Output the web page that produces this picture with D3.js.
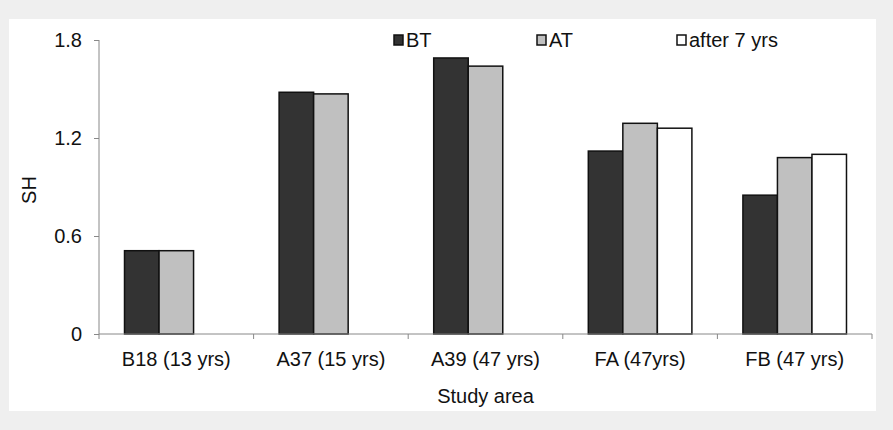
<!DOCTYPE html>
<html>
<head>
<meta charset="utf-8">
<script src="https://cdn.jsdelivr.net/npm/d3@7"></script>
<style>
  html, body { margin: 0; padding: 0; background: #efefef; }
  svg { display: block; font-family: "Liberation Sans", Arial, sans-serif; }
</style>
</head>
<body>
<svg id="chart" width="893" height="430"></svg>
<script>
// chart data
const categories = ["B18 (13 yrs)", "A37 (15 yrs)", "A39 (47 yrs)", "FA (47yrs)", "FB (47 yrs)"];
const seriesNames = ["BT", "AT", "after 7 yrs"];
const btValues = [0.51, 1.48, 1.69, 1.12, 0.85];
const atValues = [0.51, 1.47, 1.64, 1.29, 1.08];
const after7Values = [null, null, null, 1.26, 1.10];
const yTicks = [0, 0.6, 1.2, 1.8];

const colors = ["#333333", "#c0c0c0", "#ffffff"];
const seriesValues = [btValues, atValues, after7Values];
const fontSize = 20;

const svg = d3.select("#chart");

// white panel
svg.append("rect")
    .attr("x", 9).attr("y", 19)
    .attr("width", 867).attr("height", 392)
    .attr("fill", "#fff");

const margin = { left: 99, right: 21, top: 40, bottom: 96 };
const width = 893 - margin.left - margin.right;
const height = 430 - margin.top - margin.bottom;

const g = svg.append("g").attr("transform", `translate(${margin.left},${margin.top})`);

const x0 = d3.scaleBand().domain(categories).range([0, width]).paddingInner(0.33).paddingOuter(0.165);
const x1 = d3.scaleBand().domain(seriesNames).range([0, x0.bandwidth()]);
const y = d3.scaleLinear().domain([0, 1.8]).range([height, 0]);

// bars
const rows = categories.map((c, i) => ({
    cat: c,
    vals: seriesNames.map((s, j) => ({ s, j, v: seriesValues[j][i] })).filter(d => d.v != null)
}));

g.append("g").selectAll("g")
    .data(rows)
    .join("g")
    .attr("transform", d => `translate(${x0(d.cat)},0)`)
    .selectAll("rect")
    .data(d => d.vals)
    .join("rect")
    .attr("x", d => x1(d.s))
    .attr("y", d => y(d.v))
    .attr("width", x1.bandwidth())
    .attr("height", d => height - y(d.v))
    .attr("fill", d => colors[d.j])
    .attr("stroke", "#111")
    .attr("stroke-width", 1.5);

// y axis
const yAxis = g.append("g")
    .call(d3.axisLeft(y).tickValues(yTicks).tickFormat(d => d === 0 ? "0" : d3.format(".1f")(d)).tickSize(5).tickPadding(12));
yAxis.select(".domain").attr("stroke", "#888").attr("d", `M0,0V${height}`);
yAxis.selectAll(".tick line").attr("stroke", "#888");
yAxis.selectAll(".tick text").attr("font-size", fontSize).attr("fill", "#111");

// x axis with ticks between categories
const xAxis = g.append("g").attr("transform", `translate(0,${height})`);
xAxis.append("line").attr("x1", 0).attr("x2", width).attr("stroke", "#888");
xAxis.selectAll(".sep")
    .data(d3.range(categories.length + 1))
    .join("line")
    .attr("x1", i => i * width / categories.length)
    .attr("x2", i => i * width / categories.length)
    .attr("y1", 0).attr("y2", 5)
    .attr("stroke", "#888");
xAxis.selectAll(".lab")
    .data(categories)
    .join("text")
    .attr("x", d => x0(d) + x0.bandwidth() / 2)
    .attr("y", 32)
    .attr("text-anchor", "middle")
    .attr("font-size", fontSize)
    .attr("fill", "#111")
    .text(d => d);

// axis titles
svg.append("text")
    .attr("x", margin.left + width / 2)
    .attr("y", 403)
    .attr("text-anchor", "middle")
    .attr("font-size", fontSize)
    .attr("fill", "#111")
    .text("Study area");

svg.append("text")
    .attr("transform", "translate(36,190) rotate(-90)")
    .attr("text-anchor", "middle")
    .attr("font-size", fontSize)
    .attr("fill", "#111")
    .text("SH");

// legend
const legendX = [394, 537, 677];
const legend = svg.append("g").selectAll("g")
    .data(seriesNames)
    .join("g")
    .attr("transform", (d, i) => `translate(${legendX[i]},40)`);
legend.append("rect")
    .attr("x", 0).attr("y", -5)
    .attr("width", 9).attr("height", 10)
    .attr("fill", (d, i) => colors[i])
    .attr("stroke", "#111")
    .attr("stroke-width", 1.5);
legend.append("text")
    .attr("x", 12).attr("y", 7)
    .attr("font-size", fontSize)
    .attr("fill", "#111")
    .text(d => d);
</script>
</body>
</html>
